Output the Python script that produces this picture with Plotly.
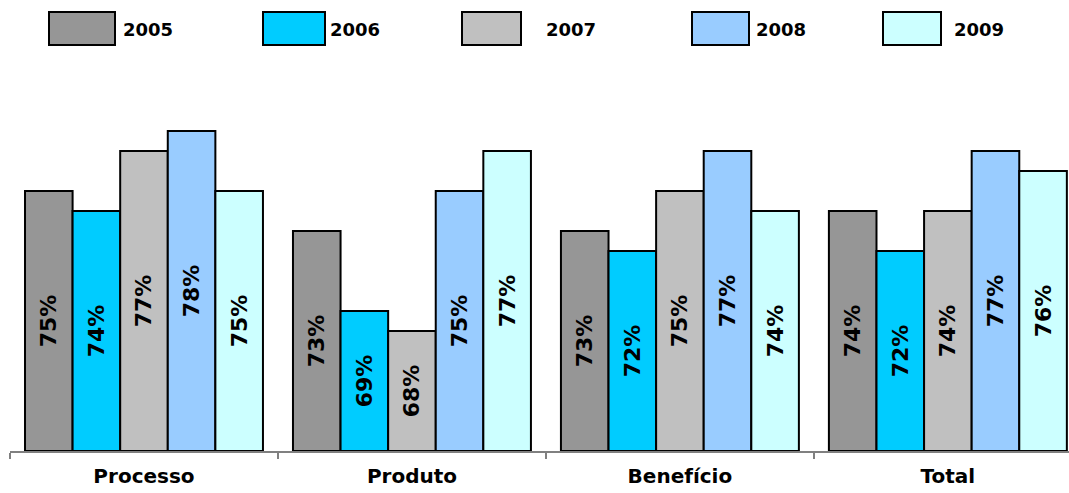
import plotly.graph_objects as go

categories = ["Processo", "Produto", "Benefício", "Total"]
years = ["2005", "2006", "2007", "2008", "2009"]
values = {
    "2005": [75, 73, 73, 74],
    "2006": [74, 69, 72, 72],
    "2007": [77, 68, 75, 74],
    "2008": [78, 75, 77, 77],
    "2009": [75, 77, 74, 76],
}
colors = ["#969696", "#00CCFF", "#C0C0C0", "#99CCFF", "#CCFFFF"]
BASE = 62

FONT = "DejaVu Sans"

fig = go.Figure()
for y, c in zip(years, colors):
    fig.add_trace(go.Bar(
        name=y, x=categories, y=[v - BASE for v in values[y]], base=BASE,
        marker=dict(color=c, line=dict(color="#000000", width=2)),
        text=[f"{v}%" for v in values[y]],
        textposition="inside", insidetextanchor="middle", textangle=-90,
        textfont=dict(family=FONT, size=22, color="#000000", weight="bold"),
        showlegend=False,
    ))

# custom legend (large swatches); coordinates in screen pixels
W, H = 1069, 493
PL, PT, PB = 10, 95, 451  # plot area left/top/bottom on screen
PW = W - PL
PH = PB - PT
sw_x = [49, 263, 462, 692, 883]
sw_w = [66, 62, 59, 57, 58]
tx_x = [121, 328, 544, 754, 952]
shapes, annots = [], []
for i, (y, c) in enumerate(zip(years, colors)):
    shapes.append(dict(type="rect", xref="paper", yref="paper",
                       x0=(sw_x[i] - PL) / PW, x1=(sw_x[i] + sw_w[i] - PL) / PW,
                       y0=(PB - 45) / PH, y1=(PB - 12) / PH,
                       fillcolor=c, line=dict(color="#000000", width=2)))
    annots.append(dict(xref="paper", yref="paper", x=(tx_x[i] - PL) / PW,
                       y=(PB - 29) / PH, text=y, showarrow=False,
                       xanchor="left", yanchor="middle",
                       font=dict(family=FONT, size=18, color="#000000", weight="bold")))

fig.update_layout(
    width=W, height=H,
    margin=dict(l=PL, r=0, t=PT, b=H - PB, autoexpand=False),
    barmode="group", bargap=0.112, bargroupgap=0,
    plot_bgcolor="white", paper_bgcolor="white",
    shapes=shapes, annotations=annots,
    uniformtext=dict(minsize=22, mode="show"),
)
fig.update_xaxes(
    range=[-0.5, 3.452], showline=True, linecolor="#808080", linewidth=2,
    ticks="outside", tickson="boundaries", ticklen=6, tickcolor="#808080", tickwidth=2,
    tickfont=dict(family=FONT, size=20, color="#000000", weight="bold"),
    ticklabelstandoff=6, showgrid=False, automargin=False,
)
fig.update_yaxes(range=[BASE, 79.8], visible=False, showgrid=False)

fig.write_html(
    "out.html",
    config={"displayModeBar": False},
    post_script="document.body.style.margin='0';document.body.style.overflow='hidden';",
)
